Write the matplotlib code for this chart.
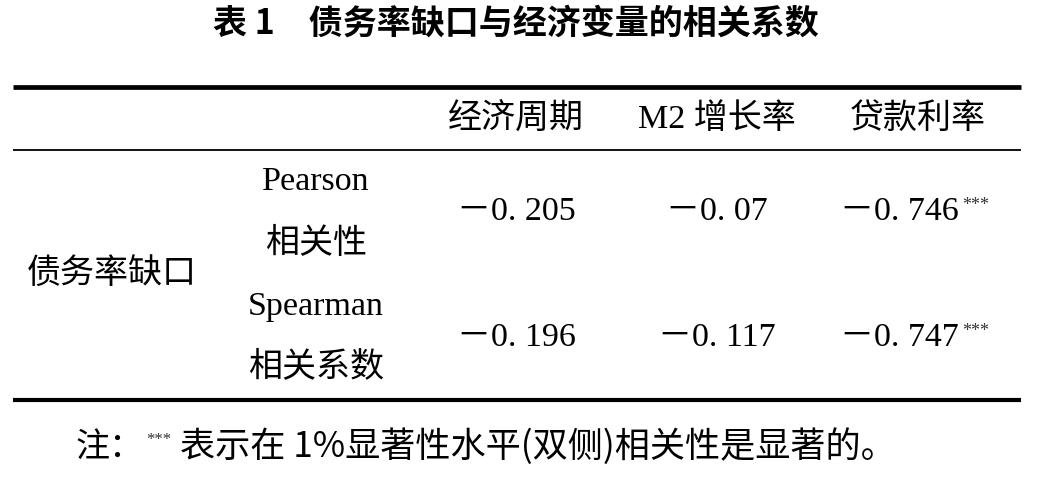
import matplotlib
matplotlib.use("Agg")
import matplotlib.pyplot as plt

plt.rcParams['font.family'] = ['Noto Sans CJK SC', 'DejaVu Sans']

title = "表 1　债务率缺口与经济变量的相关系数"
row_group = "债务率缺口"
columns = ["经济周期", "M2 增长率", "贷款利率"]
method_en = ["Pearson", "Spearman"]
method_cn = ["相关性", "相关系数"]
pearson = [-0.205, -0.07, -0.746]
spearman = [-0.196, -0.117, -0.747]
values = [pearson, spearman]
sig = [["", "", "***"], ["", "", "***"]]
note_head = "注："
note_mark = "***"
note_body = "表示在 1%显著性水平(双侧)相关性是显著的。"

SERIF = ['Liberation Serif', 'Noto Sans CJK SC', 'DejaVu Sans']
CJK = ['Noto Sans CJK SC', 'DejaVu Sans']
FS = 24.5

fig = plt.figure(figsize=(10.4, 4.83), dpi=100)
ax = fig.add_axes([0, 0, 1, 1])
ax.set_xlim(0, 1040)
ax.set_ylim(483, 0)
ax.axis('off')

# title
ax.text(516, 23, title, ha='center', va='center', fontsize=24.5, fontweight='bold', family=CJK)

# rules
ax.plot([13, 1021], [87, 87], color='black', lw=3.4, solid_capstyle='butt')
ax.plot([13, 1021], [150, 150], color='black', lw=1.3, solid_capstyle='butt')
ax.plot([13, 1021], [400, 400], color='black', lw=3.0, solid_capstyle='butt')

col_x = [516, 717, 918]
for cx, c in zip(col_x, columns):
    ax.text(cx, 119, c, ha='center', va='center', fontsize=FS, family=SERIF)

# row group label
ax.text(112, 273, row_group, ha='center', va='center', fontsize=FS, family=CJK)

row_y = [212, 338]
en_y = [182, 307]
cn_y = [243, 367]
for i in range(2):
    ax.text(316, en_y[i], method_en[i], ha='center', va='center', fontsize=FS, family=SERIF)
    ax.text(316, cn_y[i], method_cn[i], ha='center', va='center', fontsize=FS, family=CJK)
    for j, v in enumerate(values[i]):
        s = ("－" if v < 0 else "") + format(abs(v), 'g').replace('.', '. ')
        t = ax.text(col_x[j] - (19 if sig[i][j] else 0), row_y[i], s, ha='center', va='center',
                    fontsize=FS, family=SERIF)
        if sig[i][j]:
            ax.annotate(sig[i][j], xy=(1, 0.72), xycoords=t, xytext=(3, 0), textcoords='offset points',
                        ha='left', va='center', fontsize=13, family=SERIF, color='#333333')

# note
ax.text(76, 447, note_head, ha='left', va='center', fontsize=FS, family=CJK)
ax.text(146, 440, note_mark, ha='left', va='center', fontsize=12, family=SERIF, color='#333333')
ax.text(180, 447, note_body, ha='left', va='center', fontsize=25.3, family=CJK)

fig.savefig("out.png", dpi=100, facecolor='white')
